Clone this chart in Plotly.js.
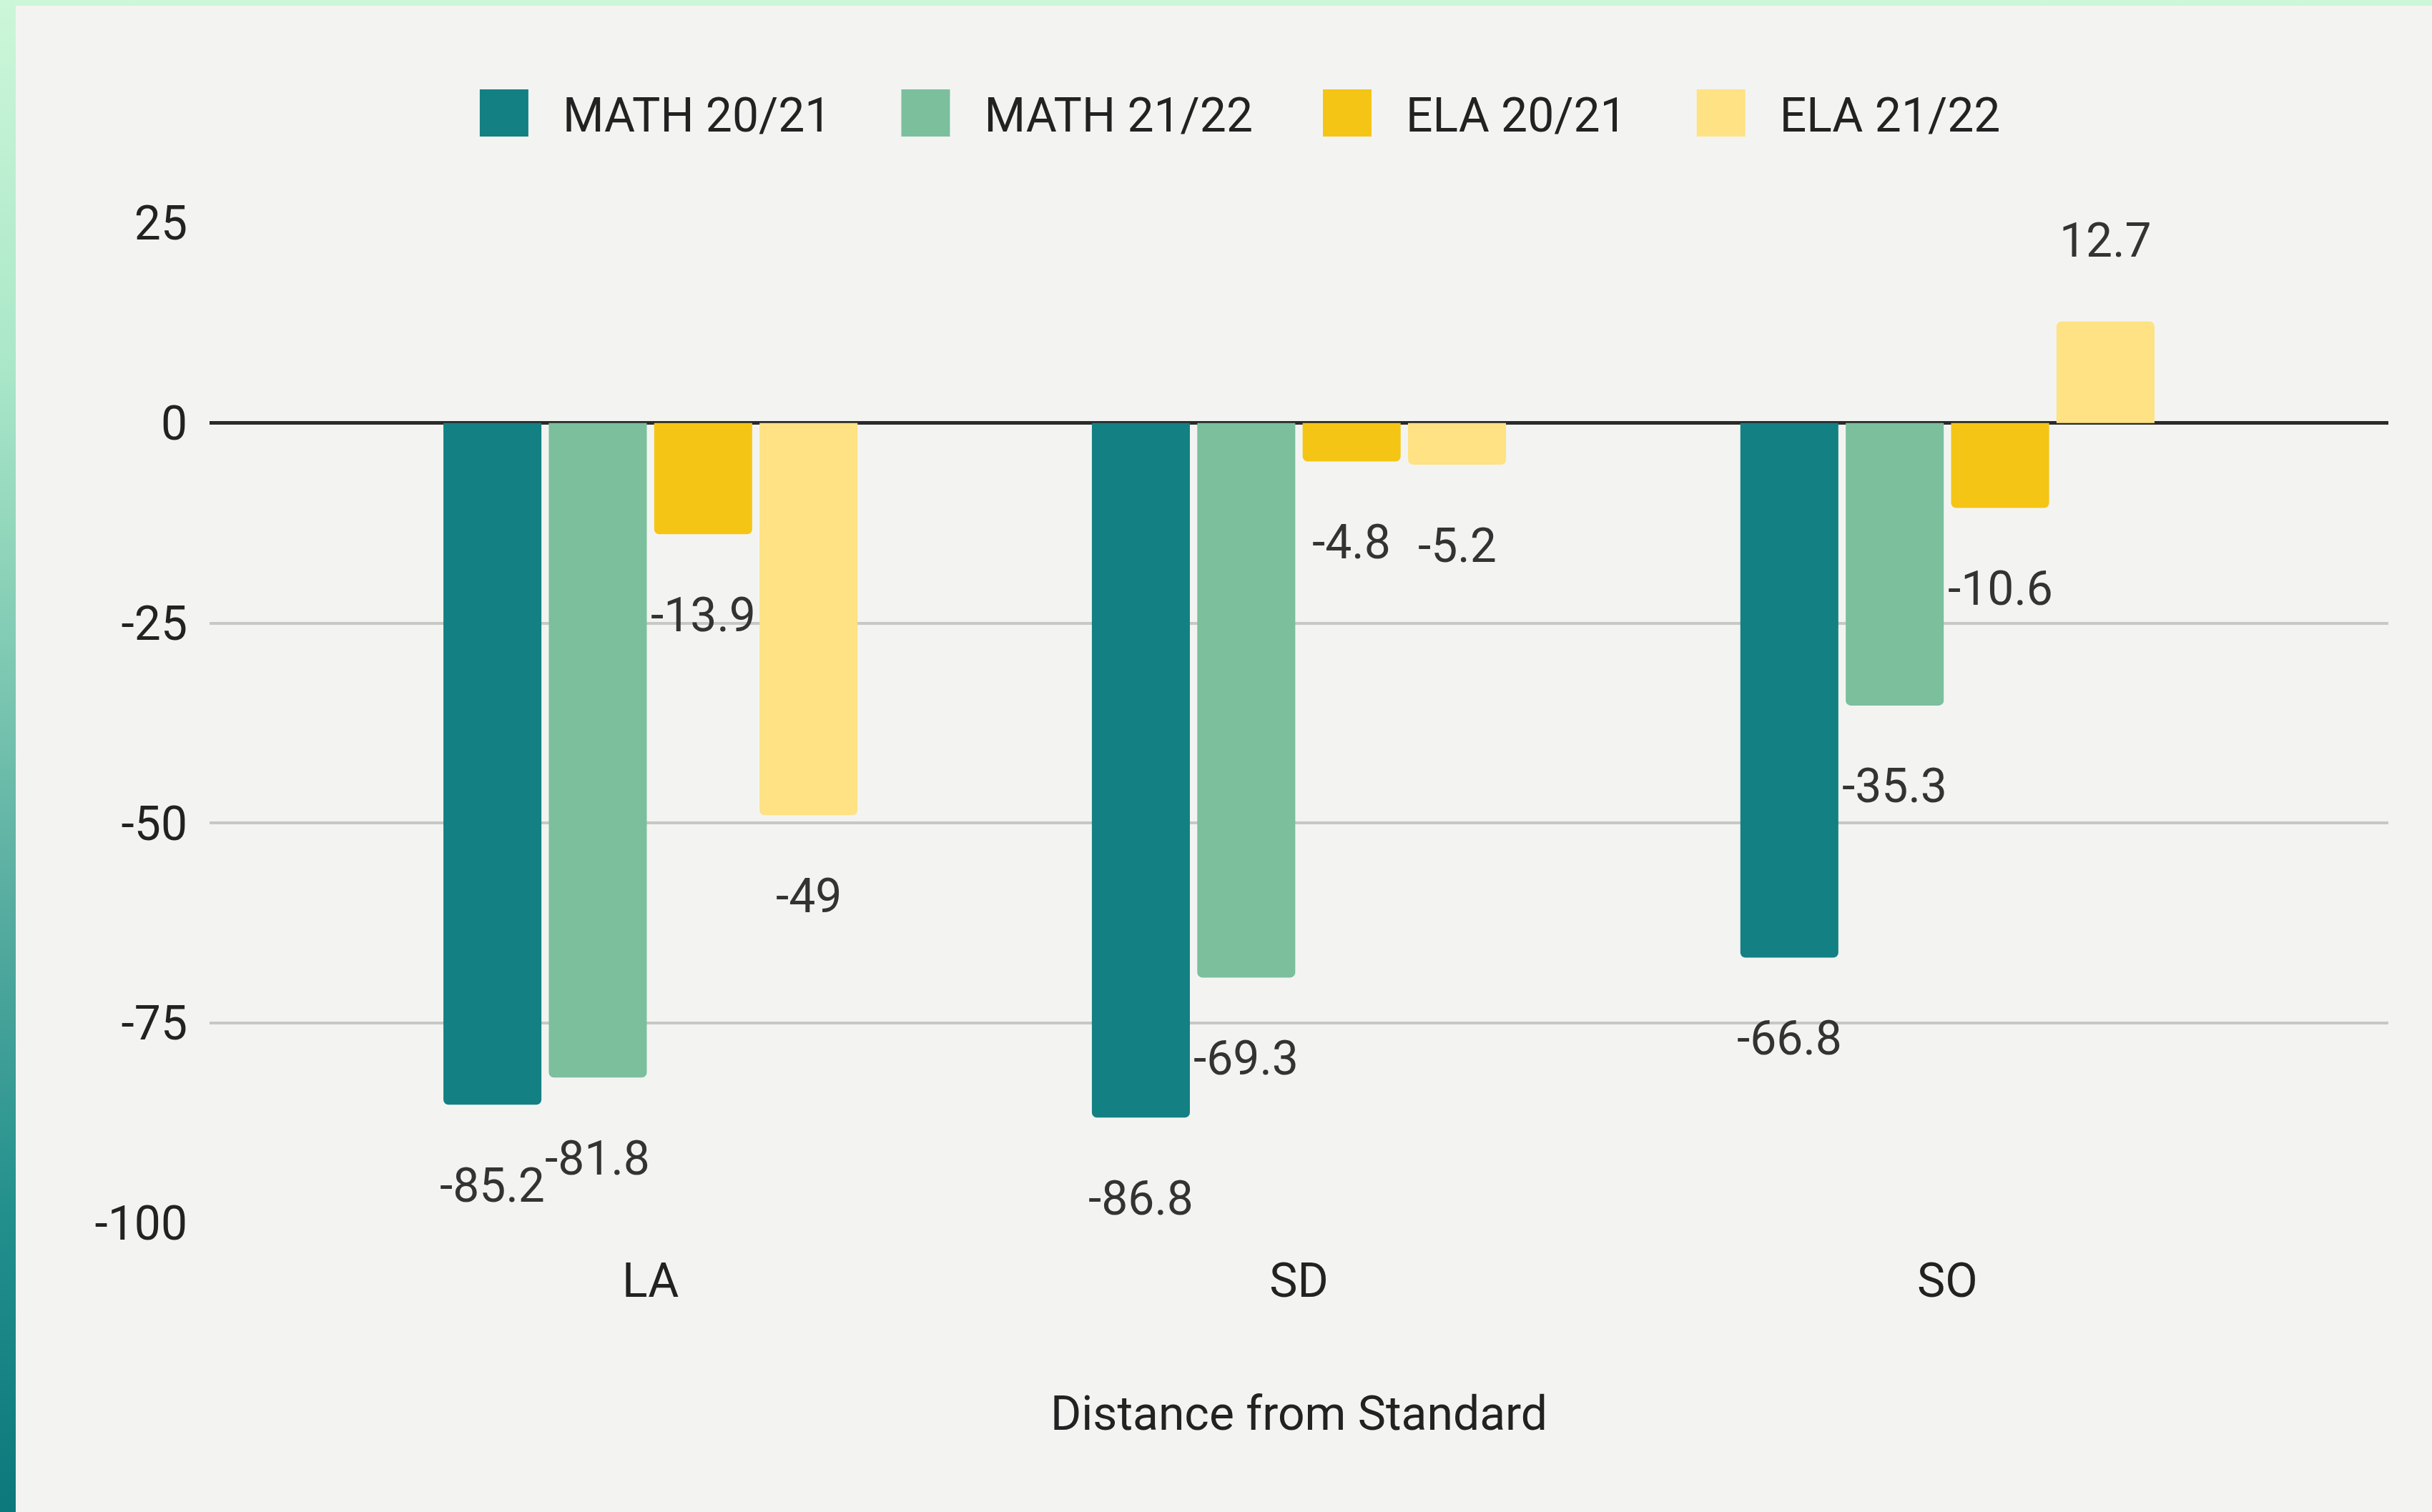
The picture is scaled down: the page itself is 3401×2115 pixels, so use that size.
<!DOCTYPE html>
<html lang="en">
<head>
    <meta charset="UTF-8">
    <title>Distance from Standard</title>
    <script src="https://cdn.plot.ly/plotly-3.0.0.min.js"></script>
    <style>
        html, body {
            margin: 0; padding: 0; width: 3401px; height: 2115px; overflow: hidden;
            background: linear-gradient(to bottom, #ccf7d8 0%, #a9e6c8 25%, #7cc7b1 45%, #52a99e 62%, #23908d 80%, #0d787c 100%);
        }
        #plot { position: absolute; left: 22px; top: 8px; width: 3379px; height: 2107px; background: #f3f4f2; }
    </style>
</head>
<body>
    <div id="plot"></div>

    <script>
        // values
        const categories = ['LA', 'SD', 'SO'];
        const seriesNames = ['MATH 20/21', 'MATH 21/22', 'ELA 20/21', 'ELA 21/22'];
        const math2021 = [-85.2, -86.8, -66.8];
        const math2122 = [-81.8, -69.3, -35.3];
        const ela2021 = [-13.9, -4.8, -10.6];
        const ela2122 = [-49, -5.2, 12.7];
        const yTicks = [-100, -75, -50, -25, 0, 25];
        const xTitle = 'Distance from Standard';

        const seriesValues = [math2021, math2122, ela2021, ela2122];
        const colors = ['#138083', '#7bbf9d', '#f5c515', '#fee283'];
        const font = 'Roboto, "Open Sans", sans-serif';
        const bargap = 0.35;

        const traces = seriesValues.map((vals, k) => ({
            type: 'bar',
            name: seriesNames[k],
            x: categories,
            y: vals,
            marker: { color: colors[k], cornerradius: 7 },
            hoverinfo: 'x+y+name'
        }));

        // value labels sit a fixed distance off the bar end
        const slot = (1 - bargap) / seriesValues.length;
        const annotations = [];
        seriesValues.forEach((vals, k) => {
            vals.forEach((v, i) => {
                annotations.push({
                    x: i + (k - (seriesValues.length - 1) / 2) * slot,
                    y: v,
                    xref: 'x', yref: 'y',
                    text: String(v),
                    showarrow: false,
                    yanchor: 'middle',
                    yshift: v < 0 ? -113 : 113,
                    font: { family: font, size: 66, color: '#333333' }
                });
            });
        });

        const layout = {
            width: 3379,
            height: 2107,
            paper_bgcolor: '#f3f4f2',
            plot_bgcolor: '#f3f4f2',
            font: { family: font, size: 66, color: '#222222' },
            margin: { l: 271, r: 61, t: 304, b: 404 },
            barmode: 'group',
            bargap: bargap,
            bargroupgap: 0.07,
            showlegend: true,
            legend: {
                orientation: 'h',
                x: 0.466, xanchor: 'center',
                y: 1.11, yanchor: 'middle',
                itemwidth: 154,
                font: { family: font, size: 66, color: '#222222' },
                bgcolor: 'rgba(0,0,0,0)'
            },
            xaxis: {
                type: 'category',
                range: [-0.68, 2.68],
                showgrid: false,
                showline: false,
                ticks: '',
                ticklabelstandoff: 36,
                tickfont: { family: font, size: 66, color: '#222222' },
                title: { text: xTitle, standoff: 124, font: { family: font, size: 66, color: '#222222' } }
            },
            yaxis: {
                range: [-100, 25],
                tickvals: yTicks,
                ticktext: yTicks.map(String),
                showgrid: true,
                gridcolor: '#c6c8c4',
                gridwidth: 4,
                zeroline: true,
                zerolinecolor: '#2a2a2a',
                zerolinewidth: 5,
                showline: false,
                ticks: '',
                ticklabelstandoff: 30,
                tickfont: { family: font, size: 66, color: '#222222' }
            },
            annotations: annotations
        };

        Plotly.newPlot('plot', traces, layout, { displayModeBar: false, staticPlot: true })
        .then(function (gd) {
            // bigger legend swatches like the original
            gd.querySelectorAll('.legendpoints path').forEach(p => {
                p.setAttribute('d', 'M-34,-33H34V33H-34Z');
            });
            // wider spacing between legend entries, kept centred
            gd.querySelectorAll('.legend [clip-path]').forEach(el => el.removeAttribute('clip-path'));
            const extra = 45;
            const items = gd.querySelectorAll('.legend .traces');
            const mid = (items.length - 1) / 2;
            items.forEach((g, i) => {
                const m = /translate\(([-\d.]+),\s*([-\d.]+)\)/.exec(g.getAttribute('transform') || '');
                if (m) {
                    g.setAttribute('transform', 'translate(' + (parseFloat(m[1]) + (i - mid) * extra) + ',' + m[2] + ')');
                }
            });
        });
    </script>
</body>
</html>
